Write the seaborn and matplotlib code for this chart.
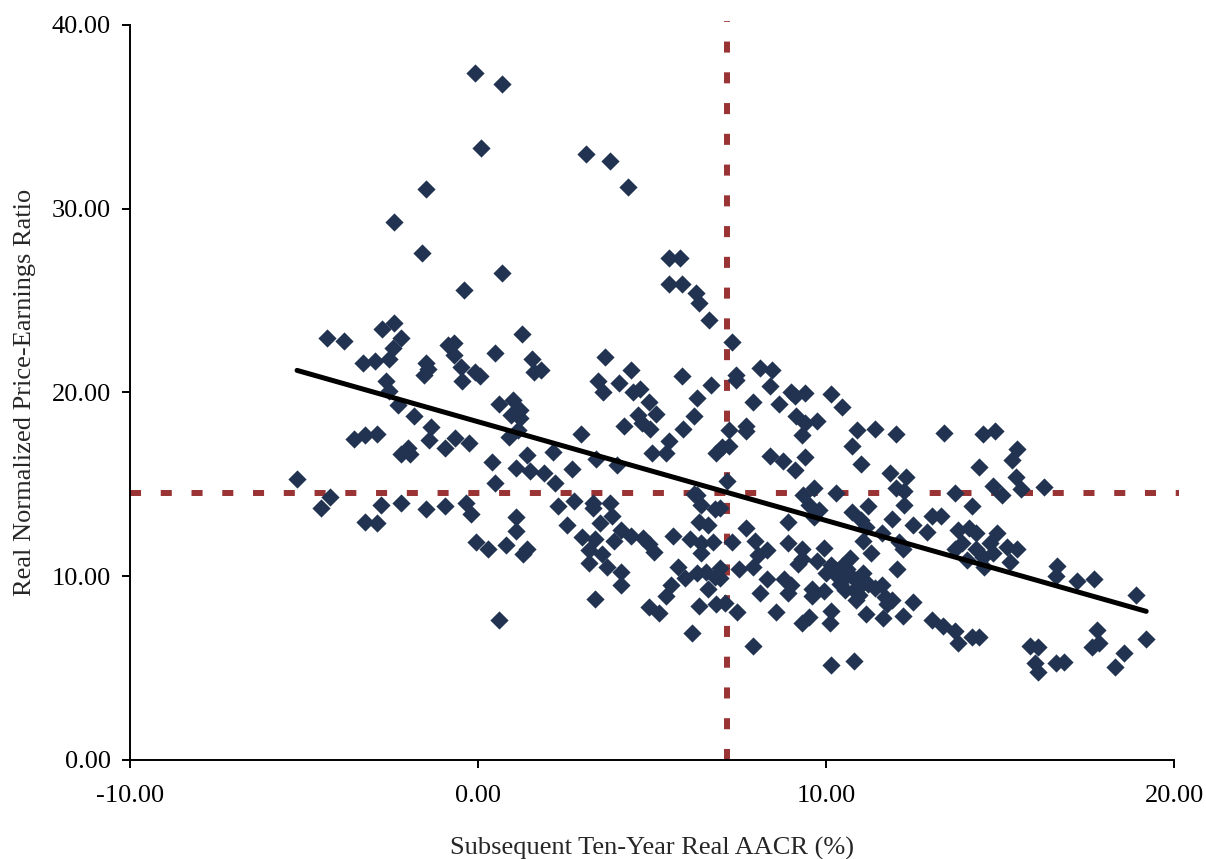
import numpy as np
import matplotlib
matplotlib.use("Agg")
import matplotlib.pyplot as plt
import seaborn as sns
import pandas as pd

# Subsequent ten-year real AACR (%) for each starting year
aacr = [
    -0.1, 0.7, 0.1, 3.1, 3.8, 4.3, -1.5, -2.4, -1.6, 0.7, -0.4,
    5.5, 5.8, 5.5, 5.85, 6.25, 6.35, 6.65, 7.3,
    -4.35, -3.85, -2.75, -2.4, -2.2, -2.45, -2.55, -2.95, -3.3, -2.65, -2.55, -2.3,
    -1.85, -1.35, -1.4, -0.95, -0.65, -0.25, -2.0, -2.2, -1.95, -3.55, -3.25, -2.9,
    -1.5, -1.45, -1.55, -0.85, -0.7, -0.7, -0.5, -0.45, -0.1, 0.05, 0.5, 0.6,
    -5.2, 0.4, 0.5,
    -4.25, -4.5, -3.25, -2.9, -2.8, -2.2, -1.5, -0.95, -0.35, -0.2, -0.05, 0.3, 0.6,
    1.25, 1.55, 1.6, 1.8, 3.65, 4.4, 3.45, 3.6, 4.05, 4.45, 4.65, 4.9, 5.1, 4.6,
    4.7, 4.95, 4.2, 5.85, 6.7, 6.3, 6.2, 5.9, 5.5, 5.4, 5.0, 6.85, 2.95, 2.15,
    3.4, 4.0, 1.0, 1.2, 0.95, 1.2, 1.15, 0.9, 1.4, 1.1, 1.5, 1.9, 2.2, 2.7, 6.2,
    7.4, 7.4, 8.1, 8.45, 8.4, 7.9, 8.65, 9.0, 9.1, 9.4, 10.15, 10.45, 9.15, 9.4,
    9.75, 9.3, 7.2, 7.7, 7.7, 7.2, 7.0, 8.4, 8.75, 9.1, 9.4, 10.9, 11.4, 12.0,
    10.75, 11.0, 11.85, 12.3, 12.0, 12.25, 7.15, 9.65, 9.35, 10.3, 13.4,
    14.5, 14.85, 15.5, 15.35, 14.4, 15.45, 14.8, 15.6, 16.25, 13.7, 15.05,
    2.3, 2.75, 3.3, 3.3, 3.8, 3.85, 3.5, 2.55, 1.1, 1.1, 0.8, 1.3, 1.4, 3.0, 3.35,
    4.1, 3.9, 4.4, 4.75, 4.9, 5.05, 5.6, 6.1, 6.4, 6.4, 6.75, 6.35, 6.6, 6.3, 6.4,
    6.8, 3.2, 3.55, 3.2, 3.7, 4.1, 4.1, 3.35, 5.75, 5.95, 6.3, 6.55, 6.8, 5.55,
    5.4, 6.6, 4.9, 5.2, 6.35, 6.85, 6.15,
    6.95, 7.7, 7.3, 7.95, 8.05, 8.3, 7.5, 7.9, 8.9, 8.9, 9.3, 9.3, 9.2, 9.95, 9.75,
    8.3, 8.8, 9.0, 8.9, 8.1, 7.1, 7.45, 8.55, 9.6, 9.6, 9.95, 9.5, 9.3, 10.15,
    10.1, 7.9, 10.15, 10.8,
    10.15, 10.3, 10.45, 10.3, 10.55, 10.7, 10.85, 10.55, 10.8, 10.95, 10.85,
    11.05, 11.2, 11.4, 11.6, 11.7, 11.9, 11.75, 10.4, 10.0, 11.0, 10.6,
    10.7, 11.3, 12.05, 11.15, 11.65, 12.2, 12.5, 13.05, 13.05, 12.9, 12.5, 11.9,
    12.25, 11.2, 10.75, 11.0, 11.15, 11.05, 11.6, 12.1, 12.2, 9.8, 9.65, 9.5,
    6.95, 6.95,
    14.2, 13.3, 13.8, 14.1, 14.3, 14.9, 13.7, 13.9, 14.3, 14.05, 14.5, 14.7, 14.8,
    14.55, 15.2, 15.5, 15.3, 16.65, 16.6, 17.2, 17.7, 18.9, 19.2, 13.35, 13.7,
    13.8, 14.2, 14.4, 15.85, 16.1, 16.0, 16.1, 16.6, 16.85, 17.8, 17.65, 17.85,
    18.55, 18.3,
]

# Real normalized price-earnings ratio at the start of each period
pe = [
    37.4, 36.8, 33.3, 33.0, 32.6, 31.2, 31.1, 29.3, 27.6, 26.5, 25.6,
    27.3, 27.3, 25.9, 25.9, 25.4, 24.85, 23.95, 22.75,
    22.95, 22.8, 23.45, 23.8, 22.95, 22.4, 21.8, 21.7, 21.6, 20.6, 20.1, 19.3,
    18.7, 18.1, 17.4, 17.0, 17.5, 17.25, 17.0, 16.65, 16.65, 17.45, 17.7, 17.75,
    21.6, 21.3, 20.95, 22.6, 22.7, 22.05, 21.4, 20.6, 21.1, 20.9, 22.15, 19.4,
    15.3, 16.2, 15.1,
    14.3, 13.7, 12.95, 12.9, 13.9, 14.0, 13.65, 13.8, 14.0, 13.4, 11.85, 11.5, 7.6,
    23.2, 21.8, 21.1, 21.2, 21.95, 21.2, 20.6, 20.0, 20.5, 20.0, 20.2, 19.5, 18.85, 18.8,
    18.35, 18.0, 18.2, 20.9, 20.4, 19.7, 18.7, 18.0, 17.35, 16.7, 16.7, 16.7, 17.75, 16.75,
    16.4, 16.05, 19.6, 19.05, 18.8, 18.6, 17.95, 17.6, 16.6, 15.9, 15.7, 15.6, 15.05, 15.85, 14.5,
    20.95, 20.7, 21.35, 21.2, 20.35, 19.5, 19.35, 20.0, 19.8, 19.95, 19.9, 19.2, 18.7, 18.35,
    18.45, 17.7, 17.95, 18.15, 17.9, 17.1, 17.05, 16.55, 16.25, 15.8, 16.5, 17.95, 18.0, 17.75,
    17.1, 16.1, 15.6, 15.4, 14.8, 14.65, 15.2, 14.8, 14.4, 14.55, 17.8,
    17.75, 17.9, 16.95, 16.3, 15.95, 15.4, 14.9, 14.75, 14.85, 14.55, 14.4,
    13.8, 14.1, 14.0, 13.7, 14.0, 13.3, 12.9, 12.8, 13.2, 12.45, 11.7, 11.2, 11.5, 12.15, 12.0,
    12.5, 11.9, 12.2, 12.1, 11.75, 11.3, 12.2, 12.0, 11.8, 11.25, 11.85, 12.95, 12.8, 14.4, 13.9,
    13.65, 11.4, 11.2, 10.7, 10.5, 10.25, 9.5, 8.75, 10.5, 9.9, 10.2, 10.25, 9.95, 9.5,
    8.9, 9.3, 8.3, 8.0, 8.4, 8.5, 6.9,
    13.7, 12.6, 11.85, 11.9, 11.15, 11.4, 10.4, 10.5, 12.95, 11.8, 11.5, 10.95, 10.65, 11.55, 10.85,
    9.85, 9.85, 9.5, 9.1, 9.1, 8.55, 8.05, 8.05, 9.3, 8.9, 9.2, 7.8, 7.45, 8.1,
    7.45, 6.2, 5.15, 5.4,
    10.6, 10.35, 10.55, 10.05, 9.95, 10.05, 9.8, 9.25, 9.25, 9.0, 8.7,
    10.2, 9.6, 9.35, 9.5, 8.85, 8.7, 8.5, 9.6, 10.2, 9.5, 10.4,
    11.0, 11.25, 10.4, 7.95, 7.75, 7.85, 8.6, 7.6, 13.3, 12.4, 12.8, 13.1,
    13.9, 13.8, 13.5, 13.05, 12.7, 11.9, 12.35, 11.85, 11.5, 13.6, 13.25, 13.9,
    10.45, 9.9,
    13.8, 13.3, 12.5, 12.6, 12.35, 12.35, 11.5, 11.8, 11.5, 10.9, 11.05, 11.8, 11.25,
    10.5, 11.6, 11.5, 10.8, 10.55, 10.0, 9.75, 9.85, 9.0, 6.6, 7.3, 7.0,
    6.35, 6.7, 6.7, 6.2, 6.15, 5.3, 4.8, 5.3, 5.35, 7.1, 6.15, 6.35,
    5.8, 5.05,
]

# Long-run averages marked by the dashed guide lines
MEAN_AACR = 7.15
MEAN_PE = 14.55

x_ticks = [-10, 0, 10, 20]
y_ticks = [0, 10, 20, 30, 40]

df = pd.DataFrame({"aacr": aacr, "pe": pe})

sns.set_theme(style="ticks")
plt.rcParams["font.family"] = ["Liberation Serif", "DejaVu Serif"]

fig = plt.figure(figsize=(12.06, 8.59), dpi=100)
ax = fig.add_axes([0.1078, 0.1153, 0.9735 - 0.1078, 0.9709 - 0.1153])

point_color = "#223352"
guide_color = "#9a3334"

sns.scatterplot(data=df, x="aacr", y="pe", ax=ax, marker="D", s=86,
                color=point_color, linewidth=0, zorder=3)

sns.regplot(data=df, x="aacr", y="pe", ax=ax, scatter=False, ci=None,
            truncate=True, line_kws={"color": "black", "linewidth": 3.6,
                                     "solid_capstyle": "round", "zorder": 4})

ax.axhline(MEAN_PE, color=guide_color, linewidth=4.3, dashes=(1.85, 3.3),
           xmin=0, xmax=1.005, clip_on=False, zorder=2)
ax.axvline(MEAN_AACR, color=guide_color, linewidth=4.3, dashes=(1.85, 3.3),
           ymin=0, ymax=1.005, clip_on=False, zorder=2)

ax.set_xlim(-10, 20)
ax.set_ylim(0, 40)
ax.set_xticks(x_ticks)
ax.set_yticks(y_ticks)
ax.set_xticklabels([f"{v:.2f}" for v in x_ticks])
ax.set_yticklabels([f"{v:.2f}" for v in y_ticks])

ax.tick_params(axis="both", direction="out", length=5.8, width=1.4,
               labelsize=19, colors="black")
ax.tick_params(axis="x", pad=12)
ax.tick_params(axis="y", pad=8)

for side in ("top", "right"):
    ax.spines[side].set_visible(False)
for side in ("left", "bottom"):
    ax.spines[side].set_linewidth(1.4)
    ax.spines[side].set_color("black")

ax.set_xlabel("Subsequent Ten-Year Real AACR (%)", fontsize=19, labelpad=22)
ax.set_ylabel("Real Normalized Price-Earnings Ratio", fontsize=19, labelpad=11)

fig.savefig("out.png", dpi=100, facecolor="white")
